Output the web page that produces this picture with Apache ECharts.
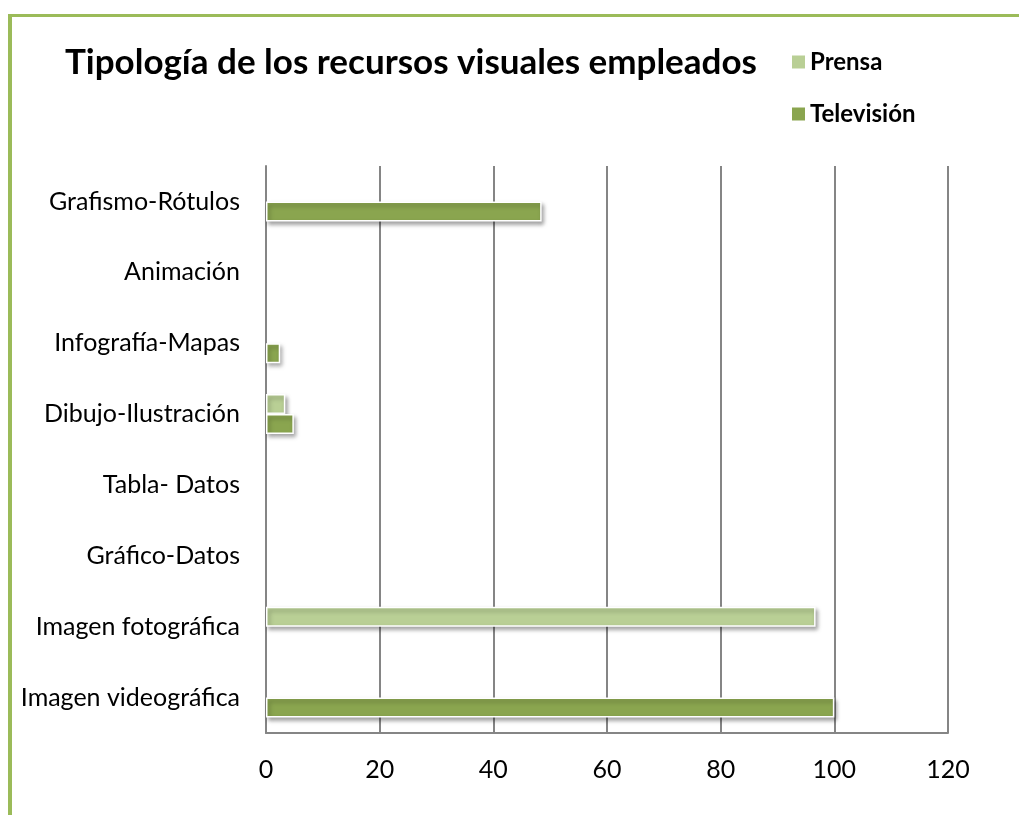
<!DOCTYPE html>
<html>
<head>
<meta charset="utf-8">
<script src="https://cdn.jsdelivr.net/npm/echarts@6/dist/echarts.min.js"></script>
<style>
  html, body { margin: 0; padding: 0; background: #fff; }
  #frame { position: absolute; left: 8px; top: 14px; width: 1011px; height: 801px;
           border-left: 4px solid #9bbb59; border-top: 3px solid #9bbb59; box-sizing: border-box; }
  #chart { position: absolute; left: 0; top: 0; width: 1019px; height: 815px; }
</style>
</head>
<body>
<div id="frame"></div>
<div id="chart"></div>
<script>
// categorías de abajo hacia arriba
var categorias = ['Imagen videográfica', 'Imagen fotográfica', 'Gráfico-Datos', 'Tabla- Datos',
                  'Dibujo-Ilustración', 'Infografía-Mapas', 'Animación', 'Grafismo-Rótulos'];
var prensa     = [0, 96.7, 0, 0, 3.4, 0, 0, 0];
var television = [100, 0, 0, 0, 4.9, 2.5, 0, 48.5];
var ticksX     = [0, 20, 40, 60, 80, 100, 120];

var myChart = echarts.init(document.getElementById('chart'));

//barras con borde blanco y sombra; las de valor 0 sin borde
var datosBarra = function(valores, color){
	return valores.map(function(v){
		return {
			value: v,
			itemStyle: v == 0 ? { opacity: 0 } : {
				color: color,
				borderColor: '#ffffff',
				borderWidth: 1.5,
				shadowColor: 'rgba(0,0,0,0.35)',
				shadowBlur: 4,
				shadowOffsetX: 2,
				shadowOffsetY: 3
			}
		};
	});
};

myChart.setOption({
	animation: false,
	title: {
		text: 'Tipología de los recursos visuales empleados',
		left: 60,
		top: 40,
		textStyle: { fontFamily: 'Lato', fontWeight: 'bold', fontSize: 35, color: '#000' }
	},
	legend: {
		orient: 'vertical',
		left: 787,
		top: 45,
		itemWidth: 13,
		itemHeight: 13,
		itemGap: 28,
		icon: 'rect',
		data: ['Prensa', 'Televisión'],
		textStyle: { fontFamily: 'Lato', fontWeight: 'bold', fontSize: 24, color: '#000' }
	},
	color: ['#b9cf95', '#8aa54f'],
	grid: { left: 266, right: 71, top: 166, bottom: 82 },
	xAxis: {
		type: 'value',
		min: ticksX[0],
		max: ticksX[ticksX.length - 1],
		interval: 20,
		axisLine: { show: true, lineStyle: { color: '#858585', width: 2 } },
		axisTick: { show: false },
		splitLine: { show: true, lineStyle: { color: '#858585', width: 2 } },
		axisLabel: { fontFamily: 'Lato', fontSize: 25, color: '#000', margin: 24 }
	},
	yAxis: {
		type: 'category',
		data: categorias,
		axisLine: { show: true, lineStyle: { color: '#858585', width: 2 } },
		axisTick: { show: false },
		axisLabel: { fontFamily: 'Lato', fontSize: 25, color: '#000', margin: 26 }
	},
	series: [
		{
			name: 'Prensa',
			type: 'bar',
			data: datosBarra(prensa, '#b9cf95'),
			barWidth: 20,
			barGap: '0%'
		},
		{
			name: 'Televisión',
			type: 'bar',
			data: datosBarra(television, '#8aa54f'),
			barWidth: 20,
			barGap: '0%'
		}
	]
});
</script>
</body>
</html>
